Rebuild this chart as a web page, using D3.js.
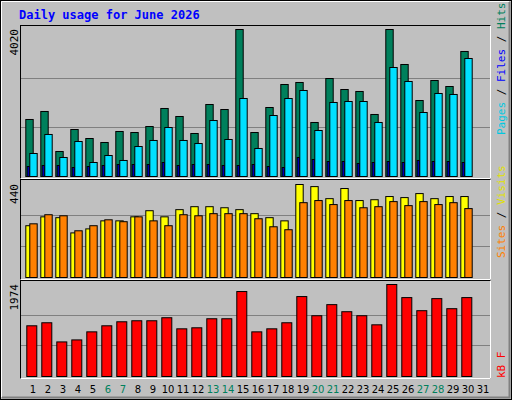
<!DOCTYPE html><html><head><meta charset="utf-8">
<script src="https://cdn.jsdelivr.net/npm/d3@7"></script>
<style>body{margin:0;background:#fff}</style></head><body><svg id="c" width="512" height="400"></svg>
<script>
const days=d3.range(1,32);
const weekend=[6,7,13,14,20,21,27,28];
const hits=[1559,1778,684,1285,1039,930,1231,1203,1367,1860,1641,1176,1969,1832,4020,1203,1887,2516,2571,1477,2680,2379,2325,1696,4020,3063,2078,2625,2461,3419];
const files=[629,1149,520,957,383,574,438,820,985,1340,985,902,1531,1012,2133,766,1668,2133,2352,1258,2024,2051,2051,1477,2981,2598,1750,2270,2243,3227];
const pages=[273,301,301,246,273,301,328,328,328,383,301,328,328,301,301,328,273,246,520,465,410,410,356,383,410,383,438,410,410,383];
const visits=[245,287,283,211,230,268,268,287,316,287,321,335,335,330,321,302,283,268,440,430,373,421,364,368,383,378,397,373,383,383];
const sites=[254,297,292,221,245,273,264,287,268,245,297,292,302,302,302,278,240,226,354,364,345,364,330,335,359,340,359,345,354,326];
const kbytes=[1088,1153,742,785,958,1088,1174,1196,1196,1261,1023,1045,1239,1239,1823,958,1023,1153,1715,1304,1542,1390,1304,1109,1974,1693,1412,1671,1455,1693];

const svg=d3.select("#c");
const mono="'DejaVu Sans Mono', monospace";
svg.append("rect").attr("x",0).attr("y",0).attr("width",512).attr("height",400).attr("fill","#C0C0C0");
svg.append("rect").attr("x",0.5).attr("y",0.5).attr("width",511).attr("height",399).attr("fill","none").attr("stroke","#000");
svg.append("path").attr("d","M2,397.5H509.5V2").attr("fill","none").attr("stroke","#808080").attr("stroke-width",2);
svg.append("path").attr("d","M1.5,397V1.5H509").attr("fill","none").attr("stroke","#fff");
svg.append("text").attr("x",19).attr("y",19).attr("font-family",mono).attr("font-weight","bold").attr("font-size",12).attr("fill","#0000FF").text("Daily usage for June 2026");

const xc=d3.scaleLinear().domain([1,31]).range([33,483]);
const panels=[
 {y0:25,y1:178,top:29,base:176,max:4020},
 {y0:179,y1:279,top:184,base:277,max:440},
 {y0:280,y1:378,top:284,base:376,max:1974}];
panels.forEach(p=>{
  p.y=d3.scaleLinear().domain([0,p.max]).range([p.base,p.top]);
  svg.append("rect").attr("x",20.5).attr("y",p.y0+0.5).attr("width",470).attr("height",p.y1-p.y0).attr("fill","#C0C0C0").attr("stroke","#000");
  svg.append("path").attr("d",`M20.5,${p.y1+0.5}H490.5V${p.y0+0.5}`).attr("fill","none").attr("stroke","#fff");
  [1,2].forEach(k=>svg.append("line").attr("x1",21).attr("x2",490).attr("y1",Math.round(p.y(p.max*k/3))+0.5).attr("y2",Math.round(p.y(p.max*k/3))+0.5).attr("stroke","#808080"));
  svg.append("text").attr("transform",`translate(18,${p.top}) rotate(-90)`).attr("text-anchor","end").attr("font-family",mono).attr("font-size",11).attr("fill","#000").text(p.max);
});
function bars(data,p,dx0,dx1,color){
  svg.append("g").selectAll("rect").data(data).join("rect")
   .attr("x",(d,i)=>xc(i+1)+dx0+0.5).attr("width",dx1-dx0)
   .attr("y",d=>p.y(d)+0.5).attr("height",d=>p.base-p.y(d))
   .attr("fill",color).attr("stroke","#000");
}
bars(hits,panels[0],-7.7,-0.3,"#00805C");
bars(files,panels[0],-3.7,3.7,"#00E0FF");
bars(pages,panels[0],-6.3,-4.3,"#0000FF");
bars(visits,panels[1],-7.7,-0.3,"#FFFF00");
bars(sites,panels[1],-3.7,3.7,"#FF8000");
bars(kbytes,panels[2],-6.7,3.3,"#FF0000");

svg.append("g").selectAll("text").data(days).join("text")
 .attr("x",d=>xc(d)).attr("y",393).attr("text-anchor","middle").attr("font-family","'DejaVu Sans', sans-serif").attr("font-size",10)
 .attr("fill",d=>weekend.includes(d)?"#00805C":"#000").text(d=>d);

function sideLabel(y,parts){
  const t=svg.append("text").attr("transform",`translate(505,${y}) rotate(-90)`).attr("font-family",mono).attr("font-size",11);
  parts.forEach(([s,c])=>t.append("tspan").attr("fill",c).text(s));
}
sideLabel(135,[["Pages","#00C8E0"],[" / ","#000"],["Files","#0000FF"],[" / ","#000"],["Hits","#00805C"]]);
sideLabel(258,[["Sites","#FF8000"],[" / ","#000"],["Visits","#E0E000"]]);
sideLabel(378,[["kB F","#FF0000"]]);
</script></body></html>
